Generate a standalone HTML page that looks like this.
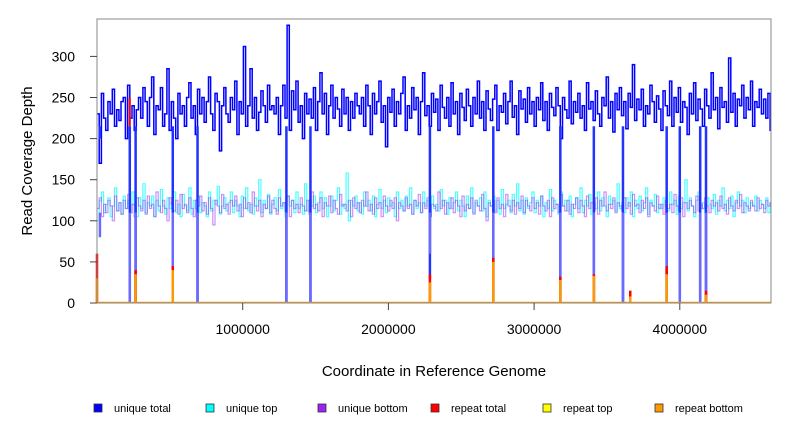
<!DOCTYPE html>
<html><head><meta charset="utf-8"><style>
body{margin:0;background:#fff}
svg{display:block;font-family:"Liberation Sans",Arial,sans-serif}
</style></head><body>
<svg id="chart" width="792" height="432" xmlns="http://www.w3.org/2000/svg">
<g id="marks"></g>
<rect x="97" y="19" width="674" height="284" fill="none" stroke="#888" stroke-width="1"/>
<g id="axes"></g>
<text x="32" y="161" transform="rotate(-90 32 161)" text-anchor="middle" font-size="15">Read Coverage Depth</text>
<text x="434" y="376" text-anchor="middle" font-size="15">Coordinate in Reference Genome</text>
<g id="legend" font-size="11"></g>
</svg>
<script>
const xTicks=[1000000,2000000,3000000,4000000];
const yTicks=[0,50,100,150,200,250,300];
const step=15000;
const uniqueTotal=[230,170,255,225,210,245,230,260,215,235,222,245,250,200,265,225,240,210,235,250,
225,262,245,215,250,275,205,240,235,262,215,230,285,210,245,225,200,255,230,240,
215,250,268,225,240,205,260,230,250,220,245,275,230,210,255,245,185,240,262,230,
220,250,235,270,205,245,230,312,215,240,285,225,250,210,232,258,240,220,265,235,
240,230,250,205,240,265,225,338,210,258,235,270,220,240,200,255,230,248,225,262,
210,245,280,230,255,205,240,265,225,250,236,215,260,230,250,210,245,225,255,240,
230,250,215,265,240,205,255,230,245,270,220,240,190,250,232,260,215,245,230,255,
275,210,240,225,262,235,250,205,245,280,228,240,215,255,232,248,210,265,238,225,
250,215,268,230,245,205,255,238,222,260,240,215,250,230,270,225,245,210,258,236,
222,248,265,210,240,232,255,218,245,270,226,240,205,258,236,248,220,262,230,245,
215,250,235,268,222,245,210,255,238,228,262,240,200,250,235,225,270,218,245,232,
255,225,240,210,268,236,245,222,258,230,215,250,240,275,225,245,208,255,235,262,
228,245,212,255,238,290,222,248,235,260,215,240,230,265,245,220,252,236,210,258,
240,228,270,215,250,232,262,220,245,238,205,255,230,268,222,248,236,215,260,240,
225,280,235,250,212,262,238,245,220,298,232,255,215,248,240,265,225,250,235,270,
215,245,238,260,230,248,225,255,210];
const uniqueTop=[100,125,135,110,120,128,105,118,140,112,122,108,130,115,125,110,135,118,105,128,
115,145,110,122,118,130,105,125,112,138,118,108,128,115,122,135,110,120,105,132,
118,112,140,108,125,115,130,110,122,118,105,135,112,125,120,142,108,118,128,112,
122,135,110,125,118,105,130,115,140,112,120,108,128,118,150,110,125,115,132,108,
120,128,112,138,115,122,105,130,118,125,110,135,115,120,108,145,112,125,118,130,
110,122,135,115,128,105,118,130,112,125,140,108,120,115,158,100,125,118,130,112,
122,108,135,118,125,112,130,105,120,138,115,125,110,128,118,122,105,135,115,125,
112,130,118,140,108,125,115,122,110,135,118,125,105,130,115,120,112,138,118,125,
108,128,115,122,135,112,125,118,105,130,115,140,110,122,118,128,112,135,105,125,
118,130,112,125,108,138,115,120,125,110,132,118,145,112,125,108,128,115,122,135,
110,125,118,130,105,122,115,138,112,125,120,108,135,118,125,112,130,105,120,128,
115,140,110,125,118,132,108,122,115,135,112,128,118,105,130,120,125,112,145,115,
122,110,128,118,135,105,125,115,130,112,122,140,108,125,118,132,110,120,115,128,
118,112,135,120,125,108,130,115,122,150,112,128,118,105,125,135,115,122,110,128,
120,115,132,108,125,118,140,112,125,115,130,105,122,135,118,125,110,128,115,122,
118,130,112,125,120,115,128,110,122];
const uniqueBottom=[115,128,105,120,110,125,118,100,130,112,122,108,125,115,132,110,120,105,128,118,
112,125,108,130,115,120,105,135,118,110,125,115,100,128,120,112,125,108,132,115,
120,110,128,115,105,125,118,130,112,122,108,128,115,95,125,118,110,132,115,120,
108,125,118,130,112,120,105,128,115,122,110,135,118,112,125,105,120,115,130,110,
125,115,108,128,118,122,112,130,105,125,115,120,110,128,118,112,125,108,135,115,
120,112,128,105,122,118,130,110,125,115,108,132,118,120,112,125,105,128,115,122,
110,125,118,135,112,120,108,128,115,122,105,130,118,112,125,115,128,100,122,118,
112,128,115,120,108,125,118,132,110,122,115,128,105,120,118,112,135,115,125,108,
122,115,128,110,125,118,105,130,112,120,115,128,108,125,118,112,132,115,100,122,
118,125,110,128,115,120,105,132,118,112,125,108,122,115,130,110,125,118,112,128,
115,122,108,130,118,112,125,105,128,115,120,110,132,118,112,125,108,120,115,128,
110,125,118,105,130,115,122,112,128,108,125,118,135,112,120,115,128,110,122,118,
112,128,115,122,108,132,118,120,110,125,115,128,105,122,118,112,130,115,120,108,
125,115,120,110,132,118,112,128,105,122,115,125,118,110,130,112,120,115,128,118,
110,125,118,122,112,130,115,120,108,128,118,112,125,115,132,110,122,118,112,125,
118,112,128,115,120,110,125,118,122];
const dipPos=[20000,225000,265000,520000,690000,1300000,1465000,2285000,2720000,3180000,3410000,3610000,3910000,4000000,4140000,4180000];
const dipTotal=[200,0,0,0,0,0,0,30,0,0,0,0,0,0,0,0];
const dipTop=[80,0,0,40,0,0,0,60,0,0,0,0,0,0,0,0];
const repeatTotalPos=[0,225000,265000,520000,2285000,2720000,3180000,3410000,3660000,3910000,4180000];
const repeatTotal=[60,250,40,45,35,55,32,35,15,45,15];
const repeatBottom=[30,0,35,40,25,50,28,33,8,35,10];
const xMax=4626000;
const X=v=>97+v/xMax*674, Y=v=>303-v*0.822;
const NS="http://www.w3.org/2000/svg";
const marks=document.getElementById('marks');
function stepPath(vals,color,w,op,name){
  let d='';
  vals.forEach((v,i)=>{if(i*step>=xMax)return;const x0=X(i*step),x1=X(Math.min((i+1)*step,xMax));d+=(i?'L':'M')+x0.toFixed(1)+','+Y(v).toFixed(1)+'L'+x1.toFixed(1)+','+Y(v).toFixed(1);});
  const p=document.createElementNS(NS,'path');p.setAttribute('d',d);p.setAttribute('fill','none');p.setAttribute('stroke',color);p.setAttribute('stroke-width',w);p.setAttribute('opacity',op);
  
  
  marks.appendChild(p);
}
function vline(g,top,bot,color,w,name){
  const l=document.createElementNS(NS,'line');l.setAttribute('x1',X(g));l.setAttribute('x2',X(g));l.setAttribute('y1',Y(top));l.setAttribute('y2',Y(bot));l.setAttribute('stroke',color);l.setAttribute('stroke-width',w);
  
  
  marks.appendChild(l);
}
stepPath(uniqueTop,'#00ffff',1.2,0.7,'unique-top-line');
stepPath(uniqueBottom,'#a020f0',1.2,0.5,'unique-bottom-line');
stepPath(uniqueTotal,'#0000ff',1.5,1,'unique-total-line');
dipPos.forEach((g,i)=>{vline(g,215,dipTotal[i],'#2233ff',2.5,'unique-total-dip');vline(g,110,dipTop[i],'#6a6aff',2.5,'unique-top-dip');});
repeatTotalPos.forEach((g,i)=>{if(repeatTotal[i]<200)vline(g,repeatTotal[i],0,'#ff0000',2.5,'repeat-total-bar');vline(g,repeatBottom[i],0,'#ff9900',2.5,'repeat-bottom-bar');});
const base=document.createElementNS(NS,'line');base.setAttribute('x1',97);base.setAttribute('x2',771);base.setAttribute('y1',302.5);base.setAttribute('y2',302.5);base.setAttribute('stroke','#ff9900');base.setAttribute('stroke-width',1.5);


marks.appendChild(base);
vline(225000,250,215,'#ff0000',2,'repeat-total-peak');
const axes=document.getElementById('axes');
xTicks.forEach(t=>{
  const l=document.createElementNS(NS,'line');l.setAttribute('x1',X(t));l.setAttribute('x2',X(t));l.setAttribute('y1',303);l.setAttribute('y2',310);l.setAttribute('stroke','#444');
  
  
  axes.appendChild(l);
  const tx=document.createElementNS(NS,'text');tx.setAttribute('x',X(t));tx.setAttribute('y',334);tx.setAttribute('text-anchor','middle');tx.setAttribute('font-size','14');tx.textContent=t;
  
  
  axes.appendChild(tx);
});
yTicks.forEach(t=>{
  const l=document.createElementNS(NS,'line');l.setAttribute('x1',90);l.setAttribute('x2',97);l.setAttribute('y1',Y(t));l.setAttribute('y2',Y(t));l.setAttribute('stroke','#444');
  
  
  axes.appendChild(l);
  const tx=document.createElementNS(NS,'text');tx.setAttribute('x',75);tx.setAttribute('y',Y(t)+5);tx.setAttribute('text-anchor','end');tx.setAttribute('font-size','14');tx.textContent=t;
  
  
  axes.appendChild(tx);
});
const legNames=['unique total','unique top','unique bottom','repeat total','repeat top','repeat bottom'];
const legColors=['#0000ff','#00ffff','#a020f0','#ff0000','#ffff00','#ff9900'];
const legX=[94,206,318,431,543,655];
const lg=document.getElementById('legend');
legNames.forEach((n,i)=>{
  const r=document.createElementNS(NS,'rect');r.setAttribute('x',legX[i]);r.setAttribute('y',404);r.setAttribute('width',8);r.setAttribute('height',8);r.setAttribute('fill',legColors[i]);r.setAttribute('stroke','#333');r.setAttribute('stroke-width',0.8);
  
  
  lg.appendChild(r);
  const t=document.createElementNS(NS,'text');t.setAttribute('x',legX[i]+20);t.setAttribute('y',412);t.textContent=n;
  
  
  lg.appendChild(t);
});
</script>
</body></html>
